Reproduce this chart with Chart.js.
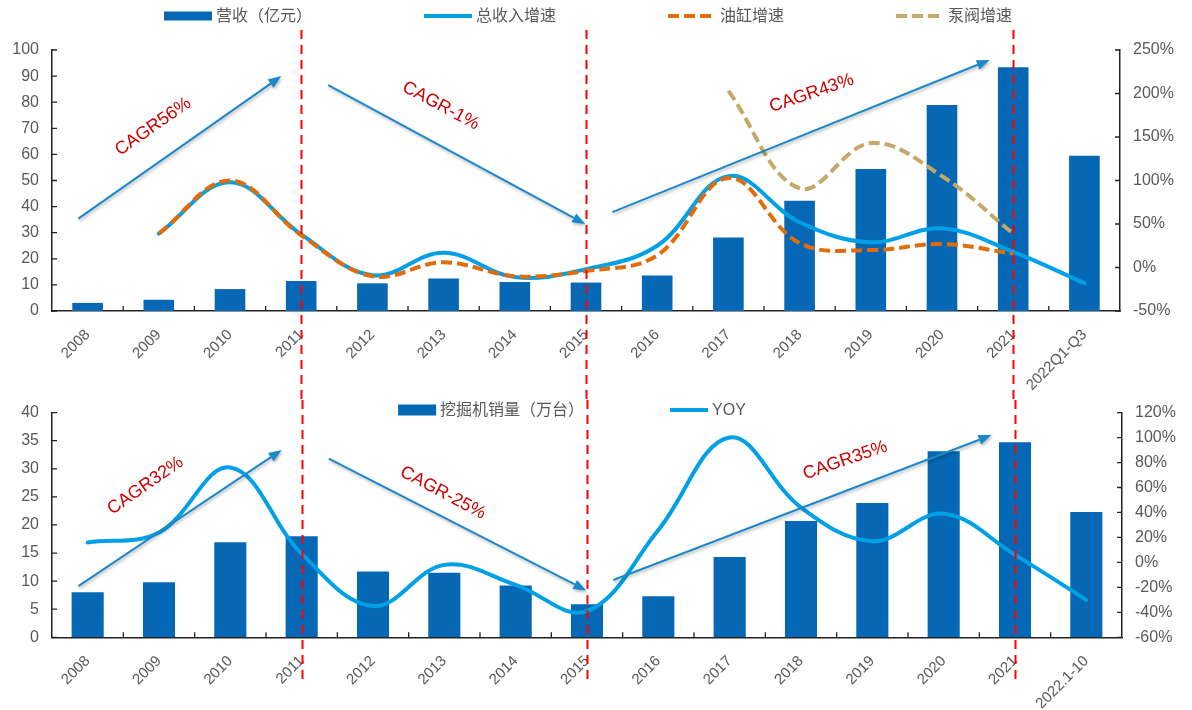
<!DOCTYPE html>
<html>
<head>
<meta charset="utf-8">
<script src="https://cdn.jsdelivr.net/npm/chart.js@4.4.0/dist/chart.umd.min.js"></script>
<style>
  body { margin: 0; background: #fff; }
  #wrap { position: relative; width: 1192px; height: 710px; overflow: hidden; background: #fff; }
  canvas { position: absolute; left: 0; }
  #revenueChart { top: 0; }
  #excavatorChart { top: 390px; }
</style>
</head>
<body>
<div id="wrap">
  <canvas id="revenueChart" width="1192" height="400"></canvas>
  <canvas id="excavatorChart" width="1192" height="320"></canvas>
</div>
<script>
const FONT = "'Liberation Sans', Arial, 'Noto Sans CJK SC', sans-serif";
const BAR_BLUE = '#0668B4';
const LINE_BLUE = '#00A0E6';
const GREY = '#595959';
const AXIS = '#222';

// ---- top panel: revenue and growth rates ----
const revenueYears = ['2008', '2009', '2010', '2011', '2012', '2013', '2014', '2015',
  '2016', '2017', '2018', '2019', '2020', '2021', '2022Q1-Q3'];
const revenue = [3.1, 4.3, 8.4, 11.5, 10.6, 12.5, 11.1, 10.9, 13.6, 28.2, 42.2, 54.4, 78.9, 93.4, 59.5];
const totalGrowth = [null, 39, 98, 38, -9, 17, -11, -2, 25, 105, 52, 29, 45, 18, -18];
const cylinderGrowth = [null, 39, 100, 37, -10, 6, -10, -4, 14, 103, 28, 20, 27, 16, null];
const pumpGrowth = [null, null, null, null, null, null, null, null, null, 203, 91, 143, 105, 39, null];

// ---- bottom panel: excavator sales ----
const salesYears = ['2008', '2009', '2010', '2011', '2012', '2013', '2014', '2015',
  '2016', '2017', '2018', '2019', '2020', '2021', '2022.1-10'];
const excavatorSales = [8.0, 9.8, 16.9, 18.0, 11.7, 11.5, 9.2, 5.9, 7.3, 14.3, 20.7, 23.9, 33.1, 34.7, 22.3];
const salesYoy = [16, 24, 76, 7, -35, -2, -18, -39, 26, 100, 44, 17, 39, 6, -30];

// category index of each cycle divider
const cycleBreaks = [3, 7, 13];

// trend arrows: [fromIndex, fromValue, toIndex, toValue] against the left axis
const revenueArrows = [[-0.13, 35.4, 2.72, 90.0], [3.38, 86.5, 6.99, 33.3], [7.37, 37.9, 12.67, 96.2]];
const salesArrows = [[-0.13, 9.1, 2.72, 33.35], [3.38, 31.8, 6.99, 8.35], [7.37, 10.2, 12.67, 36.0]];

// CAGR captions: [text, index, value, rotation deg]
const revenueCagr = [['CAGR56%', 0.92, 70.6, -35], ['CAGR-1%', 4.96, 78.6, 28], ['CAGR43%', 10.17, 83.4, -19]];
const salesCagr = [['CAGR32%', 0.81, 27.0, -35], ['CAGR-25%', 4.98, 25.7, 28], ['CAGR35%', 10.62, 31.5, -19]];

// small inward tick marks, like the office-chart look
const insideTicks = {
  id: 'insideTicks',
  afterDatasetsDraw(chart) {
    const { ctx, chartArea: a, scales } = chart;
    ctx.save();
    ctx.strokeStyle = AXIS;
    ctx.lineWidth = 1.3;
    ctx.beginPath();
    for (let i = 1; i < chart.data.labels.length; i++) {
      const x = scales.x.getPixelForValue(i - 0.5);
      ctx.moveTo(x, a.bottom);
      ctx.lineTo(x, a.bottom - 5);
    }
    scales.y.ticks.forEach(t => {
      const y = scales.y.getPixelForValue(t.value);
      ctx.moveTo(a.left, y);
      ctx.lineTo(a.left + 5, y);
    });
    scales.y1.ticks.forEach(t => {
      const y = scales.y1.getPixelForValue(t.value);
      ctx.moveTo(a.right, y);
      ctx.lineTo(a.right - 5, y);
    });
    ctx.stroke();
    ctx.restore();
  }
};

// one-row legend with per-chart placement
const legendRow = {
  id: 'legendRow',
  afterDraw(chart, args, o) {
    const ctx = chart.ctx;
    ctx.save();
    ctx.font = o.fontSize + 'px ' + FONT;
    ctx.textBaseline = 'middle';
    const items = chart.data.datasets.map(ds => ({
      ds, w: o.symbolWidth + 4 + ctx.measureText(ds.label).width
    }));
    const total = items.reduce((s, it) => s + it.w, 0) + o.gap * (items.length - 1);
    let x = o.centerX - total / 2;
    items.forEach(({ ds, w }) => {
      if (ds.type === 'bar') {
        ctx.fillStyle = ds.backgroundColor;
        ctx.fillRect(x, o.y - o.symbolHeight / 2, o.symbolWidth, o.symbolHeight);
      } else {
        ctx.strokeStyle = ds.borderColor;
        ctx.lineWidth = 4;
        ctx.setLineDash(ds.borderDash || []);
        ctx.beginPath();
        ctx.moveTo(x, o.y);
        ctx.lineTo(x + o.symbolWidth, o.y);
        ctx.stroke();
        ctx.setLineDash([]);
      }
      ctx.fillStyle = GREY;
      ctx.fillText(ds.label, x + o.symbolWidth + 4, o.y + 1);
      x += w + o.gap;
    });
    ctx.restore();
  }
};

// cycle dividers, trend arrows and CAGR captions
const overlay = {
  id: 'overlay',
  afterDatasetsDraw(chart, args, o) {
    const { ctx, scales: { x, y } } = chart;
    ctx.save();

    ctx.strokeStyle = '#FF0000';
    ctx.lineWidth = 2;
    ctx.setLineDash([9, 6]);
    o.breaks.forEach(i => {
      const px = Math.round(x.getPixelForValue(i)) + 0.5;
      ctx.beginPath();
      ctx.moveTo(px, o.lineTop);
      ctx.lineTo(px, o.lineBottom);
      ctx.stroke();
    });
    ctx.setLineDash([]);

    ctx.strokeStyle = '#1B88CA';
    ctx.fillStyle = '#1B88CA';
    ctx.shadowColor = 'rgba(0,0,0,0.28)';
    ctx.shadowBlur = 3;
    ctx.shadowOffsetX = 1;
    ctx.shadowOffsetY = 2;
    o.arrows.forEach(([i0, v0, i1, v1]) => {
      const x0 = x.getPixelForValue(i0), y0 = y.getPixelForValue(v0);
      const x1 = x.getPixelForValue(i1), y1 = y.getPixelForValue(v1);
      const ang = Math.atan2(y1 - y0, x1 - x0);
      const c = Math.cos(ang), s = Math.sin(ang);
      const bx = x1 - 13 * c, by = y1 - 13 * s;
      ctx.lineWidth = 2;
      ctx.beginPath();
      ctx.moveTo(x0, y0);
      ctx.lineTo(bx, by);
      ctx.stroke();
      ctx.beginPath();
      ctx.moveTo(x1, y1);
      ctx.lineTo(bx - 5 * s, by + 5 * c);
      ctx.lineTo(bx + 5 * s, by - 5 * c);
      ctx.closePath();
      ctx.fill();
    });

    ctx.shadowColor = 'transparent';
    ctx.fillStyle = '#CC0000';
    ctx.font = '18px ' + FONT;
    ctx.textAlign = 'center';
    ctx.textBaseline = 'middle';
    o.labels.forEach(([text, i, v, deg]) => {
      ctx.save();
      ctx.translate(x.getPixelForValue(i), y.getPixelForValue(v));
      ctx.rotate(deg * Math.PI / 180);
      ctx.fillText(text, 0, 0);
      ctx.restore();
    });
    ctx.restore();
  }
};

function tickFont(size) {
  return { size: size, family: FONT };
}

function xAxis(height) {
  return {
    ticks: { color: GREY, font: tickFont(15), minRotation: 45, maxRotation: 45, autoSkip: false, padding: 15 },
    grid: { display: false, drawTicks: false },
    border: { color: AXIS, width: 1.5 },
    afterFit: s => { s.height = height; }
  };
}

function valueAxis(side, min, max, step, width, pct) {
  return {
    position: side, min: min, max: max,
    ticks: {
      stepSize: step, color: GREY, font: tickFont(16), padding: 13,
      callback: v => pct ? v + '%' : v
    },
    grid: { display: false, drawTicks: false },
    border: { color: AXIS, width: 1.5 },
    afterFit: s => { s.width = width; }
  };
}

function lineSet(label, data, color, dash, order) {
  return {
    type: 'line', label: label, data: data, yAxisID: 'y1', order: order,
    borderColor: color, borderWidth: 4, borderDash: dash,
    borderCapStyle: dash.length ? 'butt' : 'round',
    pointRadius: 0, tension: 0.38, fill: false
  };
}

// Chart 1: revenue with growth rates
new Chart(document.getElementById('revenueChart'), {
  type: 'bar',
  data: {
    labels: revenueYears,
    datasets: [
      { type: 'bar', label: '营收（亿元）', data: revenue, yAxisID: 'y', order: 5,
        backgroundColor: BAR_BLUE, barPercentage: 0.43, categoryPercentage: 1 },
      lineSet('总收入增速', totalGrowth, LINE_BLUE, [], 3),
      lineSet('油缸增速', cylinderGrowth, '#E36C0A', [11, 5], 2),
      lineSet('泵阀增速', pumpGrowth, '#C5A76A', [11, 5], 1)
    ]
  },
  options: {
    responsive: false, animation: false, devicePixelRatio: 1,
    layout: { padding: { top: 50, left: 0, right: 0, bottom: 0 } },
    plugins: {
      legend: { display: false },
      tooltip: { enabled: false },
      legendRow: { y: 16, centerX: 588, gap: 112, symbolWidth: 48, symbolHeight: 9, fontSize: 16 },
      overlay: { breaks: cycleBreaks, lineTop: 30, lineBottom: 400, arrows: revenueArrows, labels: revenueCagr }
    },
    scales: {
      x: xAxis(89),
      y: valueAxis('left', 0, 100, 10, 52, false),
      y1: valueAxis('right', -50, 250, 50, 72, true)
    }
  },
  plugins: [insideTicks, legendRow, overlay]
});

// Chart 2: excavator sales with YoY
new Chart(document.getElementById('excavatorChart'), {
  type: 'bar',
  data: {
    labels: salesYears,
    datasets: [
      { type: 'bar', label: '挖掘机销量（万台）', data: excavatorSales, yAxisID: 'y', order: 5,
        backgroundColor: BAR_BLUE, barPercentage: 0.45, categoryPercentage: 1 },
      lineSet('YOY', salesYoy, LINE_BLUE, [], 3)
    ]
  },
  options: {
    responsive: false, animation: false, devicePixelRatio: 1,
    layout: { padding: { top: 12.7, left: 0, right: 0, bottom: 0 } },
    plugins: {
      legend: { display: false },
      tooltip: { enabled: false },
      legendRow: { y: 20, centerX: 572, gap: 86, symbolWidth: 38, symbolHeight: 11, fontSize: 16 },
      overlay: { breaks: cycleBreaks, lineTop: 10, lineBottom: 290, arrows: salesArrows, labels: salesCagr }
    },
    scales: {
      x: xAxis(72.7),
      y: valueAxis('left', 0, 40, 5, 52, false),
      y1: valueAxis('right', -60, 120, 20, 70, true)
    }
  },
  plugins: [insideTicks, legendRow, overlay]
});
</script>
</body>
</html>
